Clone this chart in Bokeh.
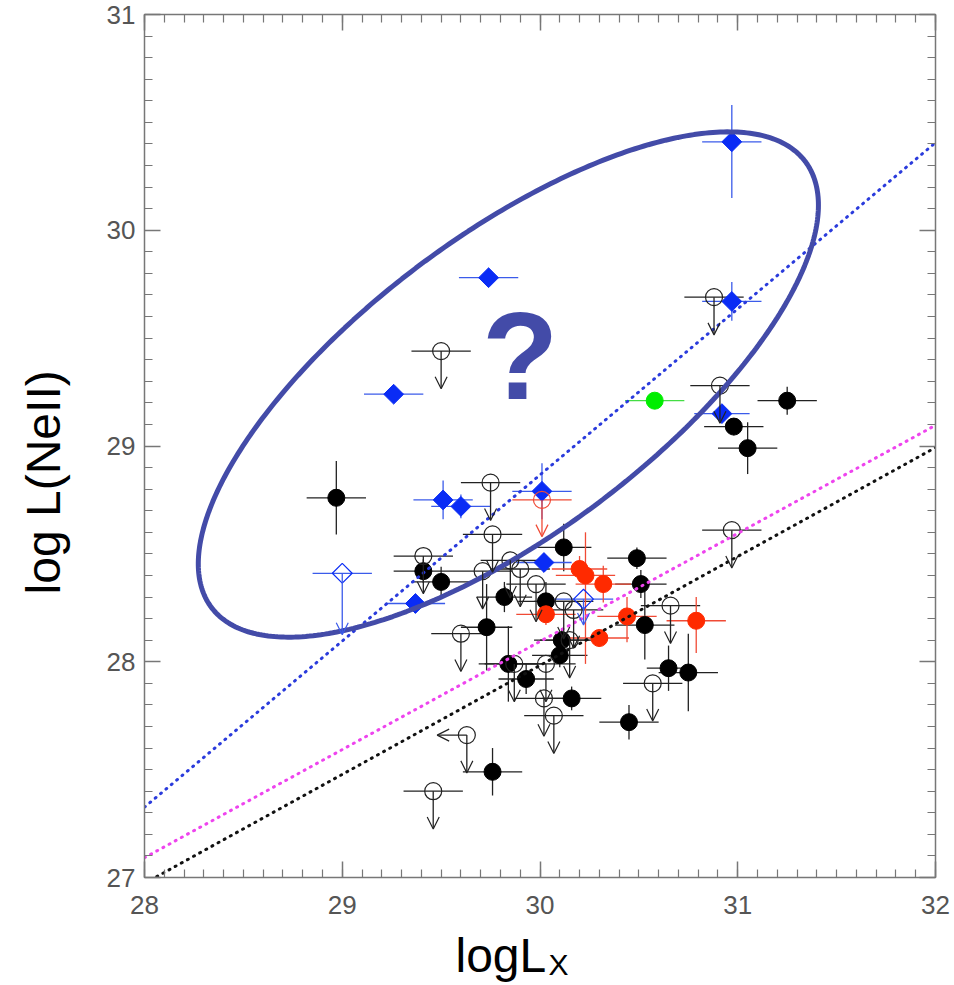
import numpy as np
from bokeh.plotting import figure
from bokeh.models import (LinearAxis, SingleIntervalTicker, Range1d, Label,
                          Arrow, OpenHead, ColumnDataSource)
from bokeh.layouts import row, column
from bokeh.core.properties import value
from bokeh.embed import file_html
from bokeh.resources import INLINE

# ---------------- data ----------------
# black filled circles: detections
det_x = [28.97, 29.41, 29.50, 29.82, 29.73, 29.84, 29.93, 29.76, 30.03, 30.12, 30.10,
         30.49, 30.51, 30.53, 30.65, 30.11, 30.16, 30.45, 30.75, 31.05, 31.25, 30.98]
det_y = [28.76, 28.42, 28.37, 28.30, 28.16, 27.99, 27.92, 27.49, 28.28, 28.53, 28.03,
         28.48, 28.36, 28.17, 27.97, 28.10, 27.83, 27.72, 27.95, 28.99, 29.21, 29.09]
det_xerr = [0.15, 0.15, 0.15, 0.14, 0.13, 0.15, 0.14, 0.15, 0.14, 0.14, 0.14,
            0.15, 0.13, 0.15, 0.11, 0.14, 0.15, 0.15, 0.15, 0.15, 0.15, 0.15]
det_yerr = [0.17, 0.055, 0.07, 0.07, 0.20, 0.175, 0.07, 0.11, 0.09, 0.11, 0.055,
            0.05, 0.065, 0.16, 0.105, 0.055, 0.055, 0.08, 0.18, 0.12, 0.065, 0.04]

# black open circles: upper limits
ul_x = [29.50, 30.88, 30.91, 29.75, 29.76, 29.41, 29.71, 29.85, 29.90, 29.98, 29.60, 29.87,
        29.63, 29.46, 30.12, 30.17, 30.66, 30.15, 30.97, 30.03, 30.02, 30.07, 30.57]
ul_y = [29.44, 29.69, 29.28, 28.83, 28.59, 28.49, 28.42, 28.47, 28.43, 28.36, 28.13, 27.99,
        27.66, 27.40, 28.28, 28.24, 28.26, 28.10, 28.61, 27.99, 27.83, 27.75, 27.90]
ul_xerr = [0.15, 0.15, 0.15, 0.15, 0.15, 0.15, 0.15, 0.15, 0.15, 0.15, 0.15, 0.15,
           0.0, 0.15, 0.15, 0.15, 0.15, 0.15, 0.15, 0.15, 0.15, 0.15, 0.15]
ul_len = 0.175
# upper limit in x as well
xl_x = [29.63]
xl_y = [27.66]
xl_len = 0.15

# blue filled diamonds
bd_x = [30.97, 30.97, 29.74, 29.26, 30.92, 29.51, 29.60, 30.01, 29.37, 30.02]
bd_y = [30.41, 29.67, 29.78, 29.24, 29.15, 28.75, 28.72, 28.79, 28.27, 28.46]
bd_xerr = [0.15, 0.15, 0.15, 0.15, 0.14, 0.15, 0.15, 0.15, 0.15, 0.14]
bd_yerr_lo = [0.26, 0.09, 0.0, 0.0, 0.0, 0.09, 0.055, 0.13, 0.0, 0.0]
bd_yerr_hi = [0.17, 0.09, 0.0, 0.0, 0.0, 0.09, 0.055, 0.13, 0.0, 0.0]

# blue open diamonds: upper limits
bu_x = [29.00, 30.22]
bu_y = [28.41, 28.29]
bu_xerr = [0.15, 0.15]
bu_len = [0.285, 0.12]

# red filled circles
rd_x = [30.20, 30.23, 30.32, 30.44, 30.30, 30.79, 30.03]
rd_y = [28.43, 28.40, 28.36, 28.21, 28.11, 28.19, 28.22]
rd_xerr = [0.14, 0.15, 0.14, 0.15, 0.15, 0.15, 0.15]
rd_yerr_lo = [0.06, 0.41, 0.085, 0.12, 0.04, 0.15, 0.05]
rd_yerr_hi = [0.06, 0.20, 0.085, 0.09, 0.04, 0.11, 0.05]

# red open circle: upper limit
ru_x = [30.01]
ru_y = [28.75]
ru_xerr = [0.15]
ru_len = [0.17]

# green filled circle
gr_x = [30.58]
gr_y = [29.21]
gr_xerr = [0.15]

# dotted relations: y = y_at_28 + slope * (x - 28)
fit_x = [28.0, 32.0]
fit_y28 = [27.326, 27.092, 26.973]
fit_slope = [0.770, 0.501, 0.505]
fit_colors = ["#2a3bdc", "#ee44ee", "#111111"]

# highlighted ellipse (centre, half extents, phase)
ell_cx, ell_cy = 29.84, 29.285
ell_ax, ell_ay = 1.568, 1.171
ell_delta_deg = 44.8

# titles
ylabel_text = "log L(NeII)"
xlabel_main = "logL"
xlabel_sub = "X"

# ---------------- layout sizes ----------------
LEFT_W = 80          # strip holding the y title
MAIN_W = 870
MAIN_H = 926
BOT_H = 58           # strip holding the x title

# ---------------- main figure ----------------
p = figure(width=MAIN_W, height=MAIN_H, x_range=Range1d(28, 32), y_range=Range1d(27, 31),
           output_backend="svg", toolbar_location=None,
           min_border_left=64, min_border_right=15, min_border_top=14, min_border_bottom=49)
p.grid.visible = False
p.outline_line_color = "#777777"
p.background_fill_color = "white"
p.border_fill_color = "white"

AX = "#777777"
TICK_FONT = "Liberation Sans"


def style_axis(ax, show_labels):
    ax.ticker = SingleIntervalTicker(interval=1, num_minor_ticks=10)
    ax.axis_line_color = AX
    ax.axis_line_width = 1.5
    ax.major_tick_line_color = AX
    ax.major_tick_line_width = 1.5
    ax.minor_tick_line_color = AX
    ax.minor_tick_line_width = 1.2
    ax.major_tick_in = 16
    ax.major_tick_out = 0
    ax.minor_tick_in = 8
    ax.minor_tick_out = 0
    ax.axis_label = None
    if show_labels:
        ax.major_label_text_font = TICK_FONT
        ax.major_label_text_font_size = "26px"
        ax.major_label_text_color = "#555555"
    else:
        ax.major_label_text_font_size = "8px"
        ax.major_label_text_color = None
        ax.major_label_standoff = 0


style_axis(p.xaxis[0], True)
style_axis(p.yaxis[0], True)
p.xaxis[0].major_label_standoff = 18
p.yaxis[0].major_label_standoff = 9

top = LinearAxis()
style_axis(top, False)
p.add_layout(top, "above")
right = LinearAxis()
style_axis(right, False)
p.add_layout(right, "right")


def xbars(x, y, xe, color, width=1.3):
    x = np.asarray(x); xe = np.asarray(xe)
    p.segment(x0=x - xe, y0=y, x1=x + xe, y1=y, line_color=color, line_width=width)


def ybars(x, y, lo, hi, color, width=1.3):
    y = np.asarray(y)
    p.segment(x0=x, y0=y - np.asarray(lo), x1=x, y1=y + np.asarray(hi),
              line_color=color, line_width=width)


def arrows(x0, y0, x1, y1, color):
    src = ColumnDataSource(dict(x0=x0, y0=y0, x1=x1, y1=y1))
    p.add_layout(Arrow(end=OpenHead(size=12, line_color=color, line_width=1.2),
                       source=src, x_start="x0", y_start="y0", x_end="x1", y_end="y1",
                       line_color=color, line_width=1.3))


BLK = "#222222"
BLUE = "#0a2cf5"
BLUE_E = "#3b5bea"
RED = "#ff2a00"
RED_E = "#f04a35"
GREEN = "#00ee00"
GREEN_E = "#44dd44"

# error bars
xbars(det_x, det_y, det_xerr, BLK)
ybars(det_x, det_y, det_yerr, det_yerr, BLK)
xbars(ul_x, ul_y, ul_xerr, BLK)
xbars(bd_x, bd_y, bd_xerr, BLUE_E)
ybars(bd_x, bd_y, bd_yerr_lo, bd_yerr_hi, BLUE_E)
xbars(bu_x, bu_y, bu_xerr, BLUE_E)
xbars(rd_x, rd_y, rd_xerr, RED_E)
ybars(rd_x, rd_y, rd_yerr_lo, rd_yerr_hi, RED_E)
xbars(ru_x, ru_y, ru_xerr, RED_E)
xbars(gr_x, gr_y, gr_xerr, GREEN_E)

# upper-limit arrows
arrows(ul_x, ul_y, ul_x, list(np.asarray(ul_y) - ul_len), BLK)
arrows(xl_x, xl_y, list(np.asarray(xl_x) - xl_len), xl_y, BLK)
arrows(bu_x, bu_y, bu_x, list(np.asarray(bu_y) - np.asarray(bu_len)), BLUE_E)
arrows(ru_x, ru_y, ru_x, list(np.asarray(ru_y) - np.asarray(ru_len)), RED_E)

# markers
p.scatter(det_x, det_y, marker="circle", size=17, fill_color="black", line_color="black")
p.scatter(ul_x, ul_y, marker="circle", size=17, fill_color=None, line_color=BLK, line_width=1.2)
p.scatter(bd_x, bd_y, marker="square", angle=np.pi / 4, size=14, fill_color=BLUE, line_color=BLUE)
p.scatter(bu_x, bu_y, marker="square", angle=np.pi / 4, size=14, fill_color=None,
          line_color=BLUE, line_width=1.2)
p.scatter(rd_x, rd_y, marker="circle", size=17, fill_color=RED, line_color=RED)
p.scatter(ru_x, ru_y, marker="circle", size=17, fill_color=None, line_color=RED_E, line_width=1.2)
p.scatter(gr_x, gr_y, marker="circle", size=17, fill_color=GREEN, line_color=GREEN)

# dotted relations
fx = np.asarray(fit_x)
for b, m, c in zip(fit_y28, fit_slope, fit_colors):
    p.line(fx, b + m * (fx - 28.0), line_color=c, line_width=3, line_dash="1 6",
           line_cap="round")

# ellipse
t = np.linspace(0, 2 * np.pi, 400)
d = np.deg2rad(ell_delta_deg)
p.line(ell_cx + ell_ax * np.cos(t), ell_cy + ell_ay * np.cos(t - d),
       line_color="#434ba8", line_width=5)

p.add_layout(Label(x=29.90, y=29.42, text="?", text_font="Liberation Sans",
                   text_font_style="bold", text_font_size="125px", text_color="#434ba8",
                   text_align="center", text_baseline="middle"))


# ---------------- title strips ----------------
def strip(w, h):
    f = figure(width=w, height=h, x_range=Range1d(0, w), y_range=Range1d(0, h),
               output_backend="svg", toolbar_location=None,
               x_axis_location=None, y_axis_location=None,
               min_border=0, min_border_left=0, min_border_right=0,
               min_border_top=0, min_border_bottom=0)
    f.grid.visible = False
    f.outline_line_color = None
    f.background_fill_color = "white"
    f.border_fill_color = "white"
    return f


p_left = strip(LEFT_W, MAIN_H)
p_left.text(x=[43], y=[MAIN_H - 502], text=[ylabel_text], angle=np.pi / 2,
            text_font=value("Liberation Sans"), text_font_size="48px", text_color="black",
            text_align="center", text_baseline="alphabetic")

p_bot = strip(LEFT_W + MAIN_W, BOT_H)
p_bot.text(x=[455], y=[29], text=[xlabel_main],
           text_font=value("Liberation Sans"), text_font_size="48px", text_color="black",
           text_align="left", text_baseline="alphabetic")
p_bot.text(x=[548], y=[20], text=[xlabel_sub],
           text_font=value("Liberation Sans"), text_font_size="30px", text_color="black",
           text_align="left", text_baseline="alphabetic")

layout = column(row(p_left, p), p_bot)

open("out.html", "w").write(file_html(layout, INLINE))
